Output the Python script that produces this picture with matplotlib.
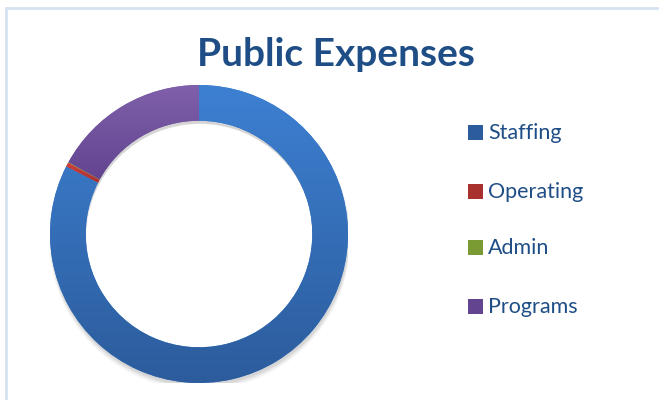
import matplotlib
matplotlib.use("Agg")
import matplotlib.pyplot as plt
import matplotlib.patches as mpatches
from matplotlib.colors import LinearSegmentedColormap
import numpy as np

# data
labels = ["Staffing", "Operating", "Admin", "Programs"]
values = [82.5, 0.45, 0.05, 17.0]
top_colors = ["#3D80D2", "#D0403C", "#9CC04A", "#8060AA"]
bot_colors = ["#2C5C9C", "#A8302D", "#7A9A34", "#624490"]

_TXT = "#1F4E86"

W, H = 659, 400
fig = plt.figure(figsize=(W / 100, H / 100), dpi=100)
fig.patch.set_facecolor("white")

# chart-area border (light blue), open to the right/bottom of the crop
fig.patches.append(mpatches.Rectangle((5.5 / W, -0.1), 1.1, (H - 7.5) / H + 0.1,
                                      transform=fig.transFigure, fill=False,
                                      ec="#D6E2F2", lw=2.0))

fig.text(336 / W, 1 - 55 / H, "Public Expenses", ha="center", va="center",
         fontsize=28, fontweight="bold", color=_TXT, family="Lato")

# donut: centre (199, 234), radius 149 px
cx, cy, r = 199, 234, 149
ax = fig.add_axes([(cx - r) / W, (H - cy - r) / H, 2 * r / W, 2 * r / H])
ax.set_xlim(-1, 1)
ax.set_ylim(-1, 1)
ax.axis("off")

# soft shadow under the ring
for k, a in enumerate([0.05, 0.05, 0.04, 0.03]):
    ax.add_patch(mpatches.Wedge((0.005, -0.018 - 0.006 * k), 1.0 + 0.004 * k, 0, 360,
                                width=0.24, fc="black", ec="none", alpha=a, zorder=0))

wedges, _ = ax.pie(values, startangle=90, counterclock=False, radius=1.0,
                   colors=top_colors, wedgeprops=dict(width=0.24, ec="none"))
for w in wedges:
    w.set_zorder(1)

# vertical gradient inside each slice (light at top, darker at bottom)
grad = np.linspace(0, 1, 256).reshape(-1, 1)
for w, c0, c1 in zip(wedges, top_colors, bot_colors):
    bb = w.get_path().get_extents(w.get_patch_transform())
    cmap = LinearSegmentedColormap.from_list("g", [c0, c1])
    im = ax.imshow(grad, cmap=cmap, aspect="auto", zorder=2,
                   extent=[bb.x0, bb.x1, bb.y0, bb.y1], origin="upper")
    im.set_clip_path(w)
ax.set_xlim(-1, 1)
ax.set_ylim(-1, 1)

# legend
leg_y = [133, 192, 248, 307]
for lab, c0, c1, y in zip(labels, top_colors, bot_colors, leg_y):
    fig.patches.append(mpatches.Rectangle((468 / W, 1 - (y + 7) / H), 15 / W, 15 / H,
                                          transform=fig.transFigure, fc=c1, ec="none"))
    fig.text(488 / W, 1 - y / H, lab, ha="left", va="center", fontsize=15.5,
             color=_TXT, family="Lato")

fig.savefig("out.png", dpi=100, facecolor="white")
